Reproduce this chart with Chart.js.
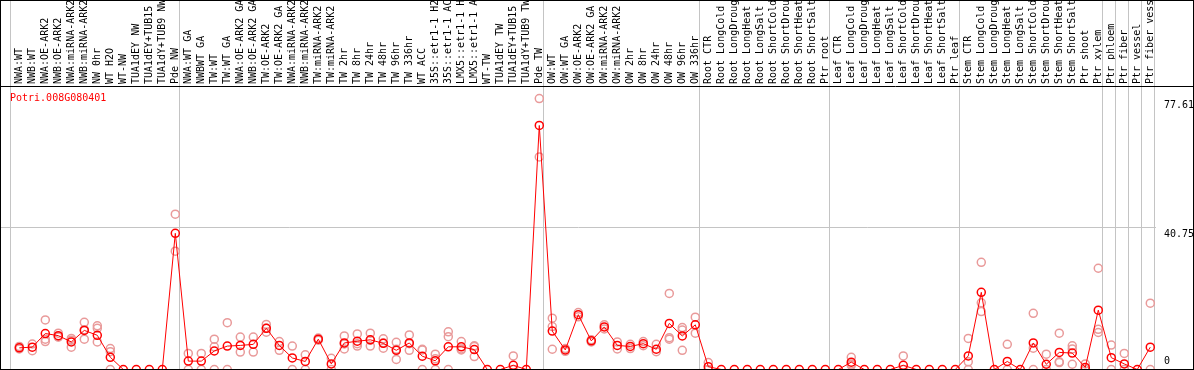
<!DOCTYPE html>
<html>
<head>
<meta charset="utf-8">
<script src="https://cdn.jsdelivr.net/npm/chart.js@4/dist/chart.umd.min.js"></script>
<style>
html, body { margin: 0; padding: 0; background: #fff; }
</style>
</head>
<body>
<canvas id="myChart" width="1194" height="370"></canvas>
<script>
// gene shown in the plot
var geneName = "Potri.008G080401";

// sample names, left to right
var sampleLabels = [
    "NWA:WT", "NWB:WT", "NWA:OE-ARK2", "NWB:OE-ARK2", "NWA:miRNA-ARK2", "NWB:miRNA-ARK2",
    "NW 0hr", "WT H2O", "WT-NW", "TUA1dEY NW", "TUA1dEY+TUB15", "TUA1dY+TUB9 NW", "Pde NW",
    "NWA:WT GA", "NWBWT GA", "TW:WT", "TW:WT GA", "NWA:OE-ARK2 GA", "NWB:OE-ARK2 GA",
    "TW:OE-ARK2", "TW:OE-ARK2 GA", "NWA:miRNA-ARK2", "NWB:miRNA-ARK2", "TW:miRNA-ARK2", "TW:miRNA-ARK2",
    "TW 2hr", "TW 8hr", "TW 24hr", "TW 48hr", "TW 96hr", "TW 336hr", "WT ACC",
    "35S::etr1-1 H2O", "35S::etr1-1 ACC", "LMX5::etr1-1 H2O", "LMX5::etr1-1 ACC",
    "WT-TW", "TUA1dEY TW", "TUA1dEY+TUB15", "TUA1dY+TUB9 TW", "Pde TW",
    "OW:WT", "OW:WT GA", "OW:OE-ARK2", "OW:OE-ARK2 GA", "OW:miRNA-ARK2", "OW:miRNA-ARK2",
    "OW 2hr", "OW 8hr", "OW 24hr", "OW 48hr", "OW 96hr", "OW 336hr",
    "Root CTR", "Root LongCold", "Root LongDrought", "Root LongHeat", "Root LongSalt",
    "Root ShortCold", "Root ShortDrought", "Root ShortHeat", "Root ShortSalt", "Ptr root",
    "Leaf CTR", "Leaf LongCold", "Leaf LongDrought", "Leaf LongHeat", "Leaf LongSalt",
    "Leaf ShortCold", "Leaf ShortDrought", "Leaf ShortHeat", "Leaf ShortSalt", "Ptr leaf",
    "Stem CTR", "Stem LongCold", "Stem LongDrought", "Stem LongHeat", "Stem LongSalt",
    "Stem ShortCold", "Stem ShortDrought", "Stem ShortHeat", "Stem ShortSalt", "Ptr shoot", "Ptr xylem",
    "Ptr phloem", "Ptr fiber", "Ptr vessel", "Ptr fiber vessel"
];

// mean expression per sample
var meanValues = [
    6.2, 6.4, 10.3, 9.7, 7.9, 11.2, 9.8, 3.5, 0, 0, 0, 0, 39.0,
    2.4, 2.4, 5.3, 6.7, 6.9, 7.2, 11.8, 6.9, 3.3, 2.3, 8.7, 1.6, 7.6, 8.1, 8.5, 7.5, 5.5, 7.6, 3.8,
    2.5, 6.5, 6.5, 5.7, 0, 0, 1.2, 0, 69.9,
    11.0, 5.6, 15.7, 8.2, 12.2, 6.9, 6.6, 7.4, 5.8, 13.2, 9.6, 12.8,
    0.8, 0, 0, 0, 0, 0, 0, 0, 0, 0,
    0, 2.1, 0, 0, 0, 1.2, 0, 0, 0, 0,
    3.9, 22.1, 0, 2.3, 0, 7.6, 1.5, 4.9, 4.7, 0.6, 17.0,
    3.4, 1.6, 0, 6.4
];

// replicate values (null = none visible)
var rep1 = [
    6.6, 7.3, 14.2, 10.4, 8.9, 13.5, 12.5, 6.0, null, null, null, null, 44.5,
    4.6, 4.6, 8.7, 13.4, 9.3, 9.3, 12.9, 8.0, 6.7, 4.2, 9.0, 3.2, 9.6, 10.2, 10.4, 8.8, 7.8, 9.9, 5.8,
    4.4, 10.8, 8.0, 6.8, null, null, 3.9, null, 77.61,
    14.7, 6.0, 16.3, 7.9, 12.8, 7.9, 7.2, 8.0, 7.2, 21.8, 12.0, 15.0,
    2.0, null, null, null, null, null, null, null, null, null,
    null, 3.5, null, null, null, 3.9, null, null, null, null,
    8.9, 30.7, null, 7.2, null, 16.1, 4.4, 10.4, 6.8, 1.6, 29.0,
    7.0, 4.6, null, 19.0
];
var rep2 = [
    5.9, 5.4, 8.0, 9.4, 6.4, 8.7, 11.8, 5.1, null, null, null, null, 33.9,
    0, 0, 6.5, 0, 5.0, 5.0, 11.8, 5.5, 0, 0, 8.4, 0, 5.9, 6.7, 6.7, 6.1, 2.9, 5.5, 0,
    0, 9.4, 5.6, 3.7, null, null, 0, null, 60.9,
    12.3, 5.2, 15.1, 8.5, 11.6, 5.9, 6.0, 6.8, 5.1, 9.1, 11.3, 10.4,
    0, null, null, null, null, null, null, null, null, null,
    null, 1.6, null, null, null, 0, null, null, null, null,
    2.2, 19.1, null, 0, null, 6.1, 0, 2.2, 5.9, 0, 11.5,
    0, 0, null, 0
];
var rep3 = [
    null, null, 8.7, 9.3, 8.4, 11.4, 7.9, 0, null, null, null, null, null,
    null, null, 0, null, null, null, 10.7, null, null, null, null, null, 7.3, 7.4, 8.4, 7.6, 5.8, 7.4, 5.6,
    3.1, 0, 5.9, 6.6, null, null, null, null, null,
    5.8, null, null, null, null, null, null, null, null, 8.7, 5.5, null,
    null, null, null, null, null, null, null, null, null, null,
    null, 1.2, null, null, null, null, null, null, null, null,
    0, 16.6, null, null, null, 0, null, 2.0, 1.5, null, 10.6,
    null, null, null, null
];

// first sample index of each group, plus the end
var groupStarts = [0, 13, 41, 53, 63, 73, 84, 85, 86, 87, 88];
var yTickValues = [0, 40.75, 77.61];
var yMax = 81.2;
var xMin = -1.408, xMax = 87.44;
var labelShift = 0.92;

var monoFont = "'DejaVu Sans Mono', 'Liberation Mono', monospace";

function toPoints(arr) {
    var out = [];
    for (var i = 0; i < arr.length; i++) {
        if (arr[i] !== null) out.push({x: i, y: arr[i]});
    }
    return out;
}

function repSet(arr) {
    return {
        data: toPoints(arr),
        showLine: false,
        pointRadius: 4,
        pointBorderWidth: 1.5,
        pointBorderColor: "#e99a9a",
        pointBackgroundColor: "rgba(0,0,0,0)",
        clip: false,
        order: 1
    };
}

var framePlugin = {
    id: "frame",
    beforeDatasetsDraw: function(chart) {
        var ctx = chart.ctx, xs = chart.scales.x, area = chart.chartArea;
        ctx.save();
        ctx.strokeStyle = "#c4c4c4";
        ctx.lineWidth = 1;
        ctx.beginPath();
        groupStarts.forEach(function(n) {
            var px = Math.round(xs.getPixelForValue(n - 0.715)) + 0.5;
            ctx.moveTo(px, 0);
            ctx.lineTo(px, area.bottom);
        });
        ctx.stroke();
        ctx.restore();
    },
    afterDraw: function(chart) {
        var ctx = chart.ctx, area = chart.chartArea, ys = chart.scales.y;
        ctx.save();
        ctx.strokeStyle = "#000";
        ctx.lineWidth = 1;
        ctx.strokeRect(0.5, 0.5, chart.width - 1, Math.floor(area.bottom));
        ctx.beginPath();
        ctx.moveTo(0, Math.round(area.top) + 0.5);
        ctx.lineTo(chart.width, Math.round(area.top) + 0.5);
        ctx.stroke();

        ctx.font = "10px " + monoFont;
        ctx.textBaseline = "top";
        ctx.textAlign = "left";
        ctx.fillStyle = "red";
        ctx.fillText(geneName, 10, area.top + 7);

        ctx.fillStyle = "#000";
        yTickValues.forEach(function(v) {
            var py = Math.min(ys.getPixelForValue(v) + 2, area.bottom - 13);
            ctx.fillText(String(v), area.right + 8, py);
        });
        ctx.restore();
    }
};

new Chart(document.getElementById("myChart"), {
    type: "line",
    data: {
        datasets: [
            {
                data: toPoints(meanValues),
                borderColor: "red",
                borderWidth: 1,
                pointRadius: 4,
                pointBorderWidth: 1.5,
                pointBorderColor: "red",
                pointBackgroundColor: "rgba(0,0,0,0)",
                tension: 0,
                clip: false,
                order: 0
            },
            repSet(rep1),
            repSet(rep2),
            repSet(rep3)
        ]
    },
    options: {
        responsive: false,
        animation: false,
        devicePixelRatio: 1,
        layout: {autoPadding: false, padding: {left: 1, top: 0, right: 0, bottom: 0.5}},
        plugins: {legend: {display: false}, tooltip: {enabled: false}},
        scales: {
            x: {
                type: "linear",
                display: false,
                min: xMin,
                max: xMax
            },
            x2: {
                type: "linear",
                position: "top",
                min: xMin - labelShift,
                max: xMax - labelShift,
                afterBuildTicks: function(s) {
                    s.ticks = sampleLabels.map(function(l, i) { return {value: i}; });
                },
                afterFit: function(s) { s.height = 86; },
                grid: {display: false, drawTicks: false},
                border: {display: false},
                ticks: {
                    autoSkip: false,
                    minRotation: 90,
                    maxRotation: 90,
                    padding: 2,
                    color: "#000",
                    font: {family: monoFont, size: 10},
                    callback: function(v) { return sampleLabels[v]; }
                }
            },
            y: {
                type: "linear",
                position: "right",
                min: 0,
                max: yMax,
                afterBuildTicks: function(s) {
                    s.ticks = yTickValues.map(function(v) { return {value: v}; });
                },
                afterFit: function(s) { s.width = 38; },
                border: {display: false},
                grid: {
                    drawTicks: false,
                    color: function(c) { return c.tick && c.tick.value === 40.75 ? "#c4c4c4" : "rgba(0,0,0,0)"; }
                },
                ticks: {display: false}
            }
        }
    },
    plugins: [framePlugin]
});
</script>
</body>
</html>
